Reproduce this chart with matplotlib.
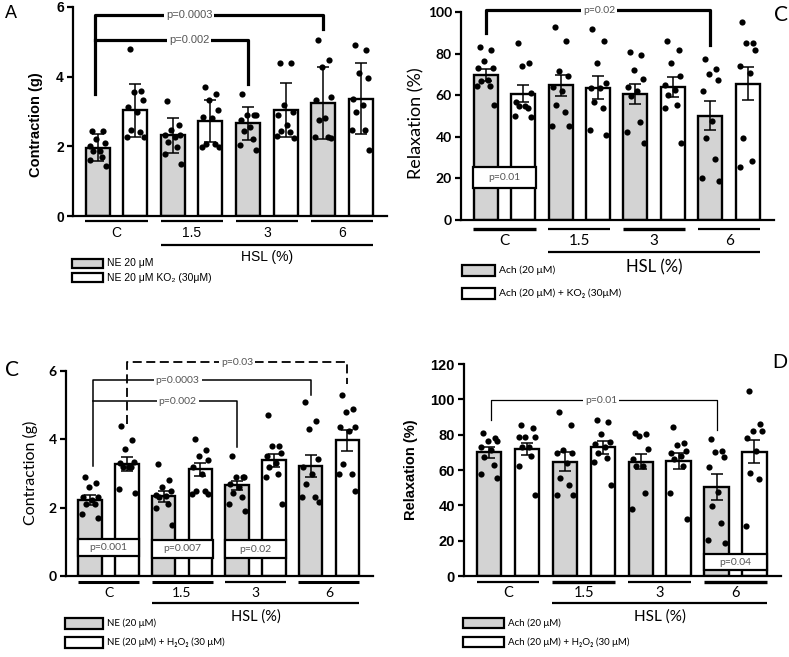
import matplotlib.pyplot as plt
from matplotlib.patches import Rectangle

W, H = 789, 657
ARIAL = ['Liberation Sans', 'DejaVu Sans']
CALI = ['Lato', 'DejaVu Sans']
GRAY = '#d3d3d3'

groups = ['C', '1.5', '3', '6']

# panel A: NE 20 uM vs NE + KO2, mean +/- SD
a_means = [1.96, 3.04, 2.32, 2.73, 2.66, 3.04, 3.25, 3.37]
a_errs = [0.38, 0.76, 0.5, 0.61, 0.48, 0.78, 1.03, 1.02]
a_dots = [[2.45, 2.45, 2.2, 2.1, 2.02, 1.87, 1.87, 1.7, 1.6, 1.44],
          [4.8, 3.6, 3.56, 3.32, 3.13, 2.99, 2.46, 2.42, 2.27, 2.27],
          [3.3, 2.6, 2.46, 2.32, 2.32, 2.27, 2.13, 1.99, 1.77, 1.49],
          [3.69, 3.51, 3.34, 3.04, 2.83, 2.8, 2.08, 2.08, 1.99, 1.99],
          [3.5, 2.9, 2.9, 2.9, 2.75, 2.55, 2.45, 2.2, 2.05, 1.9],
          [4.4, 4.4, 3.18, 3.0, 2.9, 2.6, 2.45, 2.4, 2.3, 2.25],
          [5.06, 4.47, 4.28, 3.42, 3.32, 2.8, 2.75, 2.27, 2.27, 2.25],
          [4.9, 4.76, 4.11, 3.97, 3.37, 3.2, 3.0, 2.46, 2.46, 1.89]]
a_legend = ['NE 20 μM', 'NE 20 μM KO₂ (30μM)']

# panel C (top right): Ach relaxation vs Ach + KO2, mean +/- SEM
b_means = [69.8, 60.7, 64.7, 63.7, 60.7, 63.9, 50.1, 65.5]
b_errs = [3, 4, 5, 5.3, 4.8, 4.8, 7, 8]
b_dots = [[83, 81.9, 76.6, 73, 73, 67.4, 66.6, 64.5, 64.2, 55.4],
          [85, 75.4, 73.8, 61, 56.5, 54.6, 54.6, 53.8, 49.8, 49.4],
          [92.6, 85.9, 71.4, 69.3, 64, 62, 55.4, 51.7, 45.3, 45.3],
          [91.8, 85.9, 75.4, 66, 63.4, 63.4, 56.5, 53.8, 43.3, 40.9],
          [81, 79.1, 71.9, 67.9, 63.9, 62, 59.4, 46.9, 42.5, 37.2],
          [85.9, 81.9, 75.4, 69, 65, 62.6, 60, 55.4, 53.8, 36.9],
          [77.4, 72.6, 70.3, 67.4, 61.8, 47.4, 39.3, 29.2, 20.1, 18.8],
          [95, 85, 85, 81.5, 73.8, 70.6, 39.3, 28.4, 25.4]]
b_legend = ['Ach (20 μM)', 'Ach (20 μM) + KO₂ (30μM)']

# panel C (bottom left): NE vs NE + H2O2
c_means = [2.23, 3.27, 2.33, 3.12, 2.65, 3.39, 3.22, 3.97]
c_errs = [0.14, 0.2, 0.15, 0.18, 0.12, 0.19, 0.33, 0.31]
c_dots = [[2.9, 2.72, 2.6, 2.31, 2.31, 2.21, 2.12, 2.1, 1.82, 1.71],
          [4.38, 3.97, 3.71, 3.35, 3.3, 3.2, 3.19, 3.19, 2.56, 2.43],
          [3.29, 2.8, 2.6, 2.5, 2.36, 2.35, 2.3, 2.1, 2.0, 1.5],
          [4.0, 3.68, 3.5, 3.4, 3.2, 3.0, 2.5, 2.5, 2.4, 2.4],
          [3.5, 2.9, 2.9, 2.9, 2.68, 2.6, 2.43, 2.3, 2.12, 1.89],
          [4.7, 3.8, 3.8, 3.6, 3.5, 3.3, 3.2, 3.0, 2.9, 2.1],
          [5.09, 4.53, 4.29, 3.43, 3.2, 2.98, 2.7, 2.31, 2.31, 2.17],
          [5.29, 4.9, 4.8, 4.36, 4.35, 4.25, 3.29, 3.0, 3.0, 2.48]]
c_legend = ['NE (20 μM)', 'NE (20 μM) + H₂O₂ (30 μM)']

# panel D: Ach vs Ach + H2O2
d_means = [70, 71.9, 64.7, 72.9, 64.7, 65.1, 50.2, 70.4]
d_errs = [3.3, 3.6, 5.3, 3.7, 4.1, 4.3, 7.3, 6.6]
d_dots = [[81.2, 78, 76.5, 76.5, 73.3, 71.4, 67.6, 62.7, 57.7, 55.6],
          [85.2, 83.7, 78.9, 78.6, 78.6, 73.3, 72.9, 68, 62.3, 45.8],
          [92.6, 85.6, 71.4, 69.5, 69.5, 64, 55.3, 51.5, 45.8, 45.8],
          [88.4, 86.9, 80.4, 76.1, 75, 72.9, 69.9, 67, 64.7, 51.5],
          [81.2, 80.3, 79.3, 71.9, 66, 62, 62, 47.1, 37.7],
          [84.6, 75.1, 74.2, 71, 69.5, 68, 66, 62, 47.1, 32.2],
          [77.6, 71, 70, 67.6, 61.9, 47.3, 39.7, 30.1, 20.3, 18.9],
          [104.9, 86.1, 82.3, 82.3, 78, 71, 58.1, 54.9, 28.4]]
d_legend = ['Ach (20 μM)', 'Ach (20 μM) + H₂O₂ (30 μM)']

jitter = [-0.15, 0.15, -0.04, 0.2, -0.2, 0.05, -0.12, 0.12, -0.22, 0.22]

fig = plt.figure(figsize=(W / 100, H / 100), dpi=100)


def px_axes(l, t, r, b):
    return fig.add_axes([l / W, 1 - b / H, (r - l) / W, (b - t) / H])


def below(ax, px):
    return -px / (ax.get_position().height * H)


def panel(ax, means, errs, dots, ymax, step, tickfam, labfam, ylabel, ybold,
          labxy, labfs, tickfs):
    x = list(range(len(means)))
    ax.bar(x, means, width=0.64, color=[GRAY, 'white'] * 4, edgecolor='black',
           linewidth=1.7, zorder=2)
    ax.errorbar(x, means, yerr=errs, fmt='none', ecolor='black', elinewidth=1.1,
                capsize=4.5, capthick=1.1, zorder=3)
    for i, d in enumerate(dots):
        ax.scatter([i + jitter[k] for k in range(len(d))], d, s=20, color='black',
                   linewidths=0, zorder=4)
    ax.set_xlim(-0.66, 7.7)
    ax.set_ylim(0, ymax)
    ax.set_yticks(range(0, ymax + 1, step))
    ax.set_xticks([])
    ax.spines[['top', 'right']].set_visible(False)
    ax.spines[['left', 'bottom']].set_linewidth(1.6)
    ax.tick_params(axis='y', width=1.6, length=4.5, labelsize=tickfs, pad=2)
    for t in ax.get_yticklabels():
        t.set_fontweight('bold')
        t.set_family(tickfam)
    ax.set_ylabel(ylabel, fontsize=labfs, family=labfam,
                  fontweight='bold' if ybold else 'normal')
    ax.yaxis.label.set_va('center')
    ax.yaxis.set_label_coords(*labxy)


def group_axis(ax, offs, lws, fam, fs, hfs):
    tr = ax.get_xaxis_transform()
    u, lab, hsl, htxt = [below(ax, p) for p in offs]
    for g, name in enumerate(groups):
        ax.plot([2 * g - 0.33, 2 * g + 1.33], [u, u], color='black', lw=lws[g],
                transform=tr, clip_on=False, solid_capstyle='butt')
        ax.text(2 * g + 0.5, lab, name, transform=tr, ha='center', va='center',
                fontsize=fs, family=fam)
    ax.plot([1.67, 7.33], [hsl, hsl], color='black', lw=1.6, transform=tr,
            clip_on=False, solid_capstyle='butt')
    ax.text(4.5, htxt, 'HSL (%)', transform=tr, ha='center', va='center',
            fontsize=hfs, family=fam)


def bracket(ax, x0, x1, y, y0, y1, text, tx, lw, fam, fs=7.5, ls='-'):
    ax.plot([x0, x0, x1, x1], [y0, y, y, y1], color='black', lw=lw, ls=ls,
            clip_on=False, zorder=5)
    ax.text(tx, y, text, ha='center', va='center', fontsize=fs, color='#555555',
            family=fam, zorder=6,
            bbox=dict(facecolor='white', edgecolor='none', pad=1.5))


def pbox(ax, g0, y0, y1, text, fam):
    ax.add_patch(Rectangle((g0 - 0.33, y0), 1.66, y1 - y0, facecolor='white',
                           edgecolor='black', lw=1.6, zorder=3))
    ax.text(g0 + 0.5, (y0 + y1) / 2, text, ha='center', va='center', fontsize=7.5,
            color='#555555', family=fam, zorder=6)


def legend_rows(x, y, w, h, gap, labels, fam, fs):
    for k, (lab, fc) in enumerate(zip(labels, [GRAY, 'white'])):
        top = y + k * gap
        fig.add_artist(Rectangle((x / W, 1 - (top + h) / H), w / W, h / H,
                                 transform=fig.transFigure, facecolor=fc,
                                 edgecolor='black', lw=1.6))
        fig.text((x + w + 4) / W, 1 - (top + h / 2) / H, lab, va='center',
                 fontsize=fs, family=fam)


# A
ax = px_axes(73, 7, 387, 216)
panel(ax, a_means, a_errs, a_dots, 6, 2, ARIAL, ARIAL, 'Contraction (g)', True,
      (-0.118, 0.435), 10.5, 10)
group_axis(ax, [4.7, 17, 29, 41], [1.6] * 4, ARIAL, 10, 10)
bracket(ax, -0.08, 6, 5.76, 3.49, 5.38, 'p=0.0003', 2.43, 2.3, ARIAL, fs=8)
bracket(ax, -0.08, 4, 5.06, 5.06, 3.8, 'p=0.002', 2.43, 2.3, ARIAL, fs=8)
legend_rows(72, 259, 31, 9, 14, a_legend, ARIAL, 7.5)
fig.text(5 / W, 1 - 14 / H, 'A', fontsize=13, family=ARIAL, va='center')

# C top right
ax = px_axes(461, 12, 774, 220)
panel(ax, b_means, b_errs, b_dots, 100, 20, CALI, CALI, 'Relaxation (%)', False,
      (-0.144, 0.466), 13, 10)
group_axis(ax, [9, 21, 32, 47], [2.4, 1.6, 2.4, 1.6], CALI, 11, 12)
bracket(ax, 0, 6, 100.8, 89.9, 84.3, 'p=0.02', 3.03, 2.3, CALI)
pbox(ax, 0, 15.2, 25.4, 'p=0.01', CALI)
legend_rows(462, 265, 33, 11, 23, b_legend, CALI, 7.5)
fig.text(774 / W, 1 - 15 / H, 'C', fontsize=15, family=CALI, va='center')

# C bottom left
ax = px_axes(66, 371, 373, 576)
panel(ax, c_means, c_errs, c_dots, 6, 2, CALI, CALI, 'Contraction (g)', False,
      (-0.117, 0.502), 11.5, 10)
group_axis(ax, [6, 17, 27, 41], [2.2, 2.2, 1.6, 2.2], CALI, 10, 10.5)
bracket(ax, 0.07, 6, 5.73, 3.21, 5.29, 'p=0.0003', 2.38, 1.1, CALI)
bracket(ax, 0.07, 4, 5.11, 5.11, 3.78, 'p=0.002', 2.38, 1.1, CALI)
bracket(ax, 1, 7, 6.26, 4.46, 5.63, 'p=0.03', 4.0, 1.3, CALI, ls=(0, (5, 2.5)))
pbox(ax, 0, 0.58, 1.09, 'p=0.001', CALI)
pbox(ax, 2, 0.53, 1.06, 'p=0.007', CALI)
pbox(ax, 4, 0.53, 1.04, 'p=0.02', CALI)
legend_rows(65, 618, 38, 11, 19, c_legend, CALI, 7)
fig.text(5 / W, 1 - 370 / H, 'C', fontsize=15, family=CALI, va='center')

# D
ax = px_axes(464, 364, 781, 576)
panel(ax, d_means, d_errs, d_dots, 120, 20, ARIAL, ARIAL, 'Relaxation (%)', True,
      (-0.167, 0.5), 10.5, 10.5)
group_axis(ax, [6, 17, 27, 41], [1.6, 2.4, 1.6, 2.4], CALI, 10.5, 11)
bracket(ax, 0.05, 6, 99.4, 88.4, 82.7, 'p=0.01', 2.95, 0.9, CALI)
pbox(ax, 6, 3.2, 12.3, 'p=0.04', CALI)
legend_rows(463, 618, 41, 10, 19, d_legend, CALI, 7)
fig.text(772 / W, 1 - 363 / H, 'D', fontsize=15, family=ARIAL, va='center')

fig.savefig('out.png', dpi=100)
